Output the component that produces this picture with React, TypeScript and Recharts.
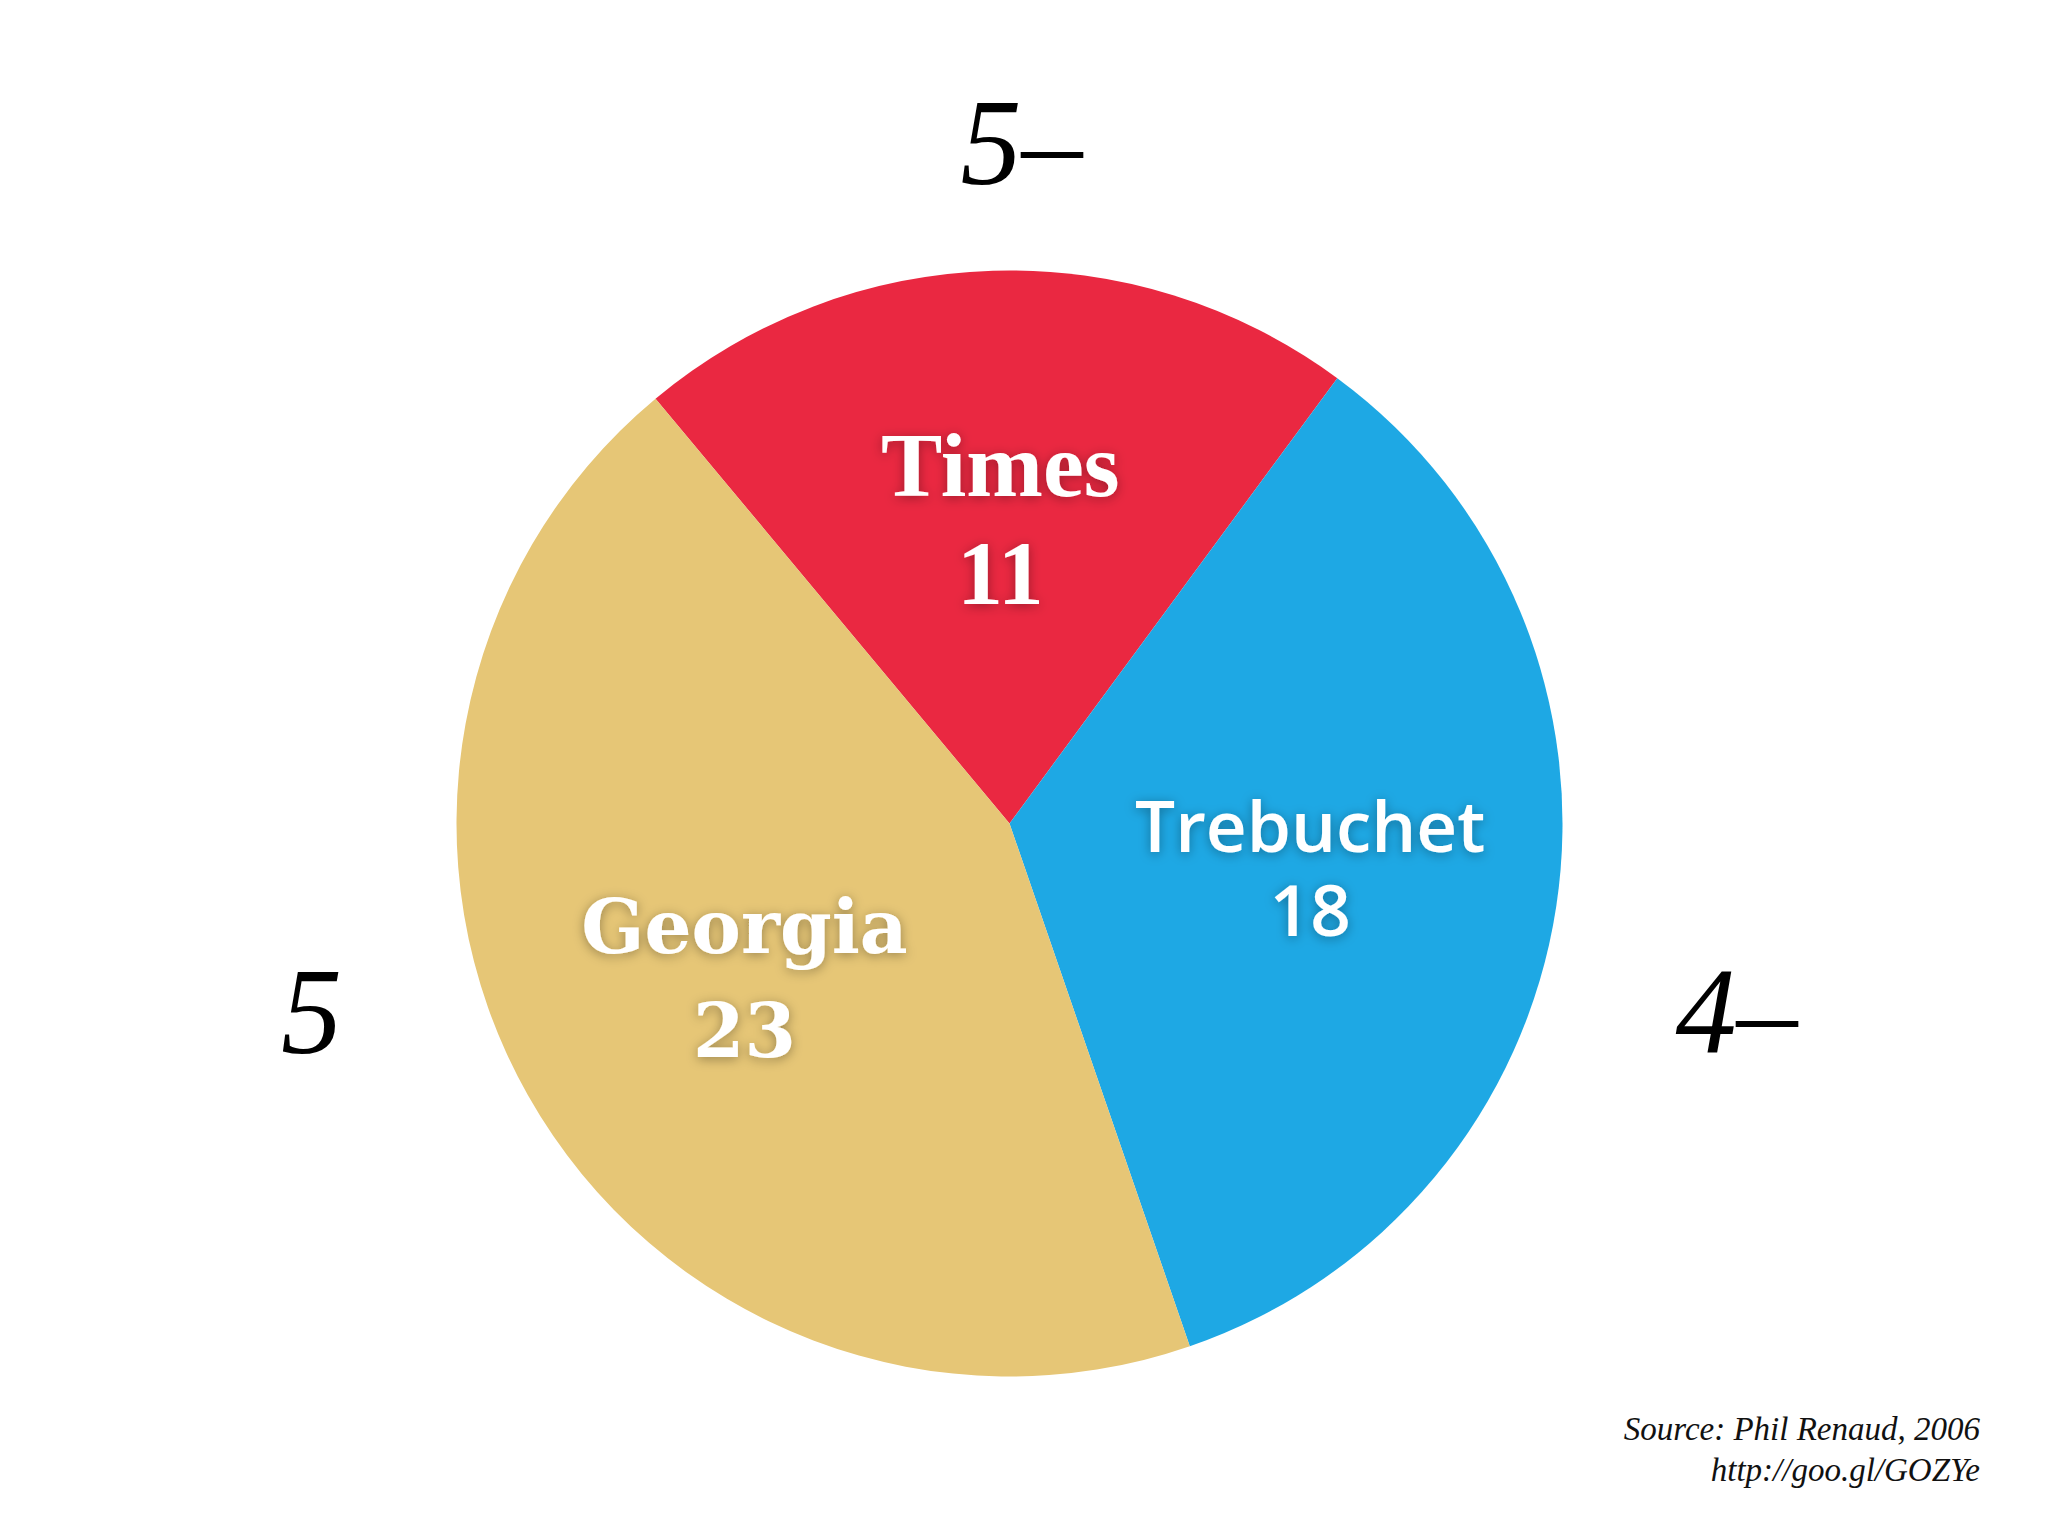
import { Cell, Pie, PieChart } from 'recharts';

// fonts compared in the survey, their score and the grade given to each
const FONT_NAMES = ['Times', 'Trebuchet', 'Georgia'];
const SCORES = [11, 18, 23];
const GRADES = ['5–', '4–', '5'];

const COLORS = ['#EA2841', '#1EA8E4', '#E6C676'];

// how each slice label is typeset: first baseline relative to the label point, then line gap
const LABEL_STYLES = [
  { family: '"Liberation Serif", "Times New Roman", serif', weight: 700, size: 92, top: -23, gap: 108 },
  { family: '"Open Sans", "Noto Sans", sans-serif', weight: 600, size: 71, top: -17, gap: 84 },
  { family: '"DejaVu Serif", Georgia, serif', weight: 700, size: 74, top: -20, gap: 104 },
];

// where the grade sits, offset from the pie centre (text baseline)
const GRADE_OFFSETS = [
  { dx: 12, dy: -640 },
  { dx: 727, dy: 229 },
  { dx: -698, dy: 229 },
];

const data = FONT_NAMES.map((name, i) => ({ name, value: SCORES[i], grade: GRADES[i] }));

const RADIAN = Math.PI / 180;

function renderLabel(props: any) {
  const { cx, cy, midAngle, outerRadius, index, name, value } = props;
  const r = outerRadius * 0.55;
  const x = cx + r * Math.cos(-midAngle * RADIAN);
  const y = cy + r * Math.sin(-midAngle * RADIAN);
  const st = LABEL_STYLES[index];
  const off = GRADE_OFFSETS[index];

  return (
    <g>
      <defs>
        <filter id={`glow-${index}`} x="-20%" y="-40%" width="140%" height="180%">
          <feDropShadow dx="0" dy="2" stdDeviation="6" floodColor="#000" floodOpacity="0.35" />
        </filter>
      </defs>
      <text
        filter={`url(#glow-${index})`}
        fill="#fff"
        fontFamily={st.family}
        fontWeight={st.weight}
        fontSize={st.size}
        textAnchor="middle"
        x={x}
        y={y + st.top}
      >
        <tspan x={x}>{name}</tspan>
        <tspan x={x} dy={st.gap}>{value}</tspan>
      </text>
      <text
        x={cx + off.dx}
        y={cy + off.dy}
        textAnchor="middle"
        fill="#000"
        fontFamily='"Liberation Serif", "Times New Roman", serif'
        fontStyle="italic"
        fontSize={122}
      >
        {props.payload.grade}
      </text>
    </g>
  );
}

export default function App() {
  return (
    <div style={{ position: 'absolute', left: 0, top: 0, width: 2048, height: 1536, background: '#fff' }}>
      <PieChart width={2048} height={1536} margin={{ top: 0, right: 0, bottom: 0, left: 0 }}>
        <Pie
          data={data}
          dataKey="value"
          nameKey="name"
          cx={1009.5}
          cy={823.5}
          outerRadius={553}
          startAngle={129.8}
          endAngle={-230.2}
          stroke="none"
          label={renderLabel}
          labelLine={false}
          isAnimationActive={false}
        >
          {data.map((d, i) => (
            <Cell key={d.name} fill={COLORS[i]} />
          ))}
        </Pie>
      </PieChart>
      <div
        style={{
          position: 'absolute',
          right: 68,
          top: 1409,
          textAlign: 'right',
          fontFamily: '"Liberation Serif", "Times New Roman", serif',
          fontStyle: 'italic',
          fontSize: 33,
          lineHeight: '41px',
          color: '#111',
        }}
      >
        Source: Phil Renaud, 2006
        <br />
        http://goo.gl/GOZYe
      </div>
    </div>
  );
}
